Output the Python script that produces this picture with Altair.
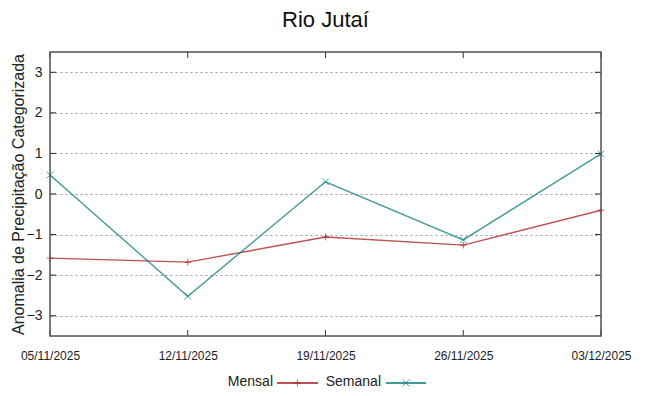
import altair as alt
import pandas as pd

dates = ["05/11/2025", "12/11/2025", "19/11/2025", "26/11/2025", "03/12/2025"]
mensal = [-1.58, -1.68, -1.06, -1.26, -0.40]
semanal = [0.47, -2.52, 0.30, -1.13, 0.99]
series = ["Mensal", "Semanal"]
colors = ["#a81818", "#007a7a"]
y_ticks = [-3, -2, -1, 0, 1, 2, 3]

rows = []
for d, m, s in zip(dates, mensal, semanal):
    rows.append({"date": d, "serie": "Mensal", "value": m})
    rows.append({"date": d, "serie": "Semanal", "value": s})
df = pd.DataFrame(rows)
df_dates = pd.DataFrame({"date": dates})
df_yt = pd.DataFrame({"value": y_ticks})

W, H = 551, 284
FONT = "Liberation Sans"
TL = 6

plus_path = "M-1,0L1,0M0,-1L0,1"
cross_path = "M-1,-1L1,1M-1,1L1,-1"

x_scale = alt.Scale(type="point", padding=0)
y_scale = alt.Scale(domain=[-3.5, 3.5], nice=False, zero=False)

x_enc = alt.X("date:O", sort=dates, scale=x_scale,
              axis=alt.Axis(title=None, labelAngle=0, labelFont=FONT, labelFontSize=12,
                            labelColor="#222", labelPadding=14, ticks=False,
                            domain=False, grid=False, labelFlush=False))
y_enc = alt.Y("value:Q", scale=y_scale,
              axis=alt.Axis(title="Anomalia de Precipitação Categorizada", values=y_ticks,
                            titleFont=FONT, titleFontSize=16, titleFontWeight="normal",
                            titleColor="#222", titleX=-32, titleY=H / 2,
                            titleBaseline="middle", titleAlign="center", titleAngle=270,
                            labelFont=FONT, labelFontSize=14, labelColor="#222", labelPadding=8,
                            ticks=False, domain=False, grid=True, gridColor="#999",
                            gridDash=[2, 3], gridWidth=1))
color_enc = alt.Color("serie:N", scale=alt.Scale(domain=series, range=colors), legend=None)
shape_enc = alt.Shape("serie:N", scale=alt.Scale(domain=series, range=[plus_path, cross_path]), legend=None)

base = alt.Chart(df).encode(x=x_enc, y=y_enc, color=color_enc)
lines = base.mark_line(strokeWidth=1.4, opacity=0.75).encode(detail="serie:N")
pts = base.mark_point(filled=False, size=45, strokeWidth=1).encode(shape=shape_enc)

# inward ticks (gnuplot style, mirrored)
xt_bottom = alt.Chart(df_dates).mark_rule(color="#333", strokeWidth=1).encode(
    x=alt.X("date:O", sort=dates), y=alt.value(H), y2=alt.value(H - TL))
xt_top = alt.Chart(df_dates).mark_rule(color="#333", strokeWidth=1).encode(
    x=alt.X("date:O", sort=dates), y=alt.value(0), y2=alt.value(TL))
yt_left = alt.Chart(df_yt).mark_rule(color="#222", strokeWidth=1).encode(
    y="value:Q", x=alt.value(0), x2=alt.value(TL))
yt_right = alt.Chart(df_yt).mark_rule(color="#222", strokeWidth=1).encode(
    y="value:Q", x=alt.value(W - TL), x2=alt.value(W))

frame = alt.Chart(pd.DataFrame({"k": [0]})).mark_rect(fill=None, stroke="#555", strokeWidth=1.5).encode(
    x=alt.value(0), x2=alt.value(W), y=alt.value(0), y2=alt.value(H))

# manual legend (gnuplot style: label then sample)
LY = H + 46
legend_layers = []
leg_text_x = [223, 331]
leg_line_x1 = [227, 336]
leg_line_x2 = [268, 376]
leg_mark_x = [247.5, 356]
for i, s in enumerate(series):
    one = pd.DataFrame({"serie": [s]})
    legend_layers.append(alt.Chart(one).mark_text(align="right", baseline="middle", font=FONT,
                                                  fontSize=14, color="#222").encode(
        x=alt.value(leg_text_x[i]), y=alt.value(LY), text="serie:N"))
    legend_layers.append(alt.Chart(one).mark_rule(strokeWidth=1.4).encode(
        x=alt.value(leg_line_x1[i]), x2=alt.value(leg_line_x2[i]), y=alt.value(LY + 1),
        color=color_enc))
    legend_layers.append(alt.Chart(one).mark_point(filled=False, size=45, strokeWidth=1).encode(
        x=alt.value(leg_mark_x[i]), y=alt.value(LY + 1), color=color_enc, shape=shape_enc))

chart = alt.layer(lines, xt_bottom, xt_top, yt_left, yt_right, pts, frame, *legend_layers).properties(
    width=W, height=H,
    title=alt.TitleParams("Rio Jutaí", font=FONT, fontSize=22, fontWeight="normal",
                          color="#111", offset=19, anchor="middle"),
    autosize=alt.AutoSizeParams(type="none"),
    padding={"left": 42, "top": 44, "right": 40, "bottom": 52},
).configure_view(stroke=None).configure(background="white")

chart.save("out.html", embed_options={"renderer": "svg", "actions": False})
